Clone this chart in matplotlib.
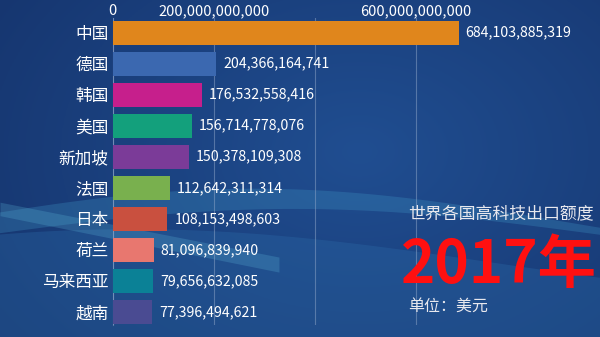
import numpy as np
import matplotlib
matplotlib.use('Agg')
import matplotlib.pyplot as plt

plt.rcParams['font.family'] = ['Noto Sans CJK SC', 'DejaVu Sans']

# 数据 (2017年, 美元)
countries = ['中国', '德国', '韩国', '美国', '新加坡', '法国', '日本', '荷兰', '马来西亚', '越南']
values = [684103885319, 204366164741, 176532558416, 156714778076, 150378109308,
          112642311314, 108153498603, 81096839940, 79656632085, 77396494621]
colors = ['#e0861c', '#3b68b0', '#c61f8c', '#13a07c', '#7b3b98',
          '#79b04e', '#c9503f', '#e8776f', '#0b8196', '#4a4b92']
grid_ticks = [0, 200e9, 400e9, 600e9]
tick_labels = ['0', '200,000,000,000', '', '600,000,000,000']

fig = plt.figure(figsize=(6, 3.37), dpi=100)

# 背景: 深蓝渐变 + 浅色波纹
bg = fig.add_axes([0, 0, 1, 1])
yy, xx = np.mgrid[0:1:200j, 0:1:300j]
r = np.hypot(xx - 0.6, (yy - 0.55) * 0.8)
k = np.clip(1 - r, 0, 1)[..., None]
dark = np.array([18, 44, 98]) / 255.0
light = np.array([32, 78, 145]) / 255.0
img = dark + (light - dark) * k
bg.imshow(img, extent=[0, 1, 0, 1], aspect='auto', origin='lower')
t = np.linspace(0, 1, 300)
bg.fill_between(t, 0.0, 0.22 + 0.10 * np.sin(2.6 * t + 1.0), color='#2c6aa8', alpha=0.35, lw=0)
bg.fill_between(t, 0.34 + 0.10 * np.sin(3.0 * t + 0.3), 0.30 + 0.08 * np.sin(3.0 * t + 0.1),
                color='#3f94c4', alpha=0.30, lw=0)
bg.fill_between(t[:140], 0.40 - 0.35 * t[:140], 0.36 - 0.36 * t[:140], color='#5cb6d8', alpha=0.25, lw=0)
bg.set_xlim(0, 1)
bg.set_ylim(0, 1)
bg.axis('off')

ax = fig.add_axes([0.188, 0.036, 0.812, 0.911])
ax.patch.set_alpha(0)
y = np.arange(len(countries))
ax.barh(y, values, height=0.77, color=colors, zorder=3)
for i in range(len(values)):
    ax.text(values[i] + 14e9, y[i], format(values[i], ','), va='center', ha='left',
            color='white', fontsize=10.2, zorder=4)

ax.set_yticks(y)
ax.set_yticklabels(countries, color='white', fontsize=12)
ax.set_ylim(9.42, -0.48)
ax.set_xlim(0, 964e9)
ax.set_xticks(grid_ticks)
ax.set_xticklabels(tick_labels, color='white', fontsize=10.5)
ax.xaxis.tick_top()
ax.tick_params(axis='x', length=0, pad=0)
ax.tick_params(axis='y', length=0, pad=3)
ax.grid(axis='x', color='#8fa6c8', lw=0.8, alpha=0.5, zorder=0)
for s in ['top', 'right', 'bottom']:
    ax.spines[s].set_visible(False)
ax.spines['left'].set_color('#8fa6c8')
ax.spines['left'].set_alpha(0.5)

fig.text(0.68, 0.367, '世界各国高科技出口额度', color='#e8e8ee', fontsize=12.2, va='center')
fig.text(0.668, 0.21, '2017年', color='#ff1010', fontsize=42, fontweight='bold', va='center')
fig.text(0.68, 0.09, '单位：美元', color='#e8e8ee', fontsize=11.5, va='center')

fig.savefig('out.png', dpi=100)
